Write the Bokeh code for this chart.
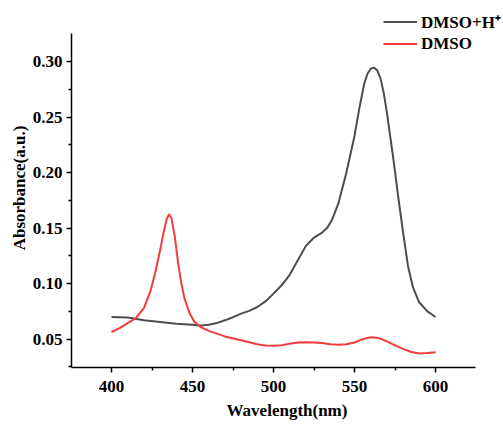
from bokeh.plotting import figure
from bokeh.models import Range1d, FixedTicker, Legend, LegendItem, NumeralTickFormatter
from bokeh.embed import file_html
from bokeh.resources import INLINE

# DMSO + H+ spectrum
wl_acid = [400, 410, 420, 430, 440, 450, 455, 460, 465, 470, 475, 480, 485, 490, 495,
           500, 505, 510, 515, 520, 525, 530, 533, 536, 540, 545, 550, 553, 556, 558,
           560, 562, 564, 566, 568, 570, 572, 574, 577, 580, 583, 586, 590, 595, 600]
abs_acid = [0.070, 0.0695, 0.067, 0.0655, 0.064, 0.063, 0.0623, 0.063, 0.0645, 0.067,
            0.0698, 0.073, 0.0755, 0.079, 0.084, 0.091, 0.0985, 0.108, 0.121, 0.134,
            0.1415, 0.146, 0.150, 0.157, 0.172, 0.200, 0.233, 0.258, 0.280, 0.289,
            0.2935, 0.2945, 0.292, 0.285, 0.272, 0.254, 0.233, 0.212, 0.178, 0.146,
            0.116, 0.097, 0.083, 0.075, 0.070]

# DMSO spectrum
wl_dmso = [400, 405, 410, 415, 420, 424, 427, 430, 432, 434, 435.5, 437, 439, 441, 443,
           445, 448, 451, 455, 460, 465, 470, 480, 490, 495, 500, 505, 510, 515, 520,
           525, 530, 535, 540, 545, 550, 555, 560, 565, 570, 575, 580, 585, 590, 595, 600]
abs_dmso = [0.0565, 0.060, 0.0645, 0.069, 0.078, 0.093, 0.110, 0.130, 0.145, 0.158,
            0.1625, 0.159, 0.143, 0.120, 0.101, 0.087, 0.074, 0.066, 0.061, 0.0575,
            0.055, 0.0525, 0.049, 0.0455, 0.0443, 0.044, 0.0445, 0.046, 0.047, 0.0473,
            0.047, 0.0465, 0.0455, 0.045, 0.0455, 0.047, 0.050, 0.0518, 0.051, 0.048,
            0.0445, 0.0413, 0.0385, 0.0372, 0.0375, 0.0383]

x_ticks = [400, 450, 500, 550, 600]
x_minor = [425, 475, 525, 575]
y_ticks = [0.05, 0.10, 0.15, 0.20, 0.25, 0.30]
y_minor = [0.025, 0.075, 0.125, 0.175, 0.225, 0.275]

labels = ["DMSO+H\u207a", "DMSO"]
colors = ["#4d4d4d", "#f23c3c"]

FONT = "Liberation Serif"

X_AXIS = (375.31, 624.69)
Y_AXIS = (0.02452, 0.3252)

p = figure(width=503, height=425, output_backend="svg", toolbar_location=None,
           x_range=Range1d(X_AXIS[0], 641.35), y_range=Range1d(Y_AXIS[0], 0.3477),
           min_border_left=71, min_border_right=1, min_border_top=8, min_border_bottom=58)
p.outline_line_color = None
p.grid.visible = False
p.background_fill_color = "white"

r1 = p.line(wl_acid, abs_acid, line_color=colors[0], line_width=2)
r2 = p.line(wl_dmso, abs_dmso, line_color=colors[1], line_width=2)

for ax in (p.xaxis[0], p.yaxis[0]):
    ax.axis_line_width = 1.5
    ax.major_tick_line_width = 1.5
    ax.minor_tick_line_width = 1.5
    ax.major_tick_in = 0
    ax.major_tick_out = 5
    ax.minor_tick_in = 0
    ax.minor_tick_out = 3
    ax.major_label_text_font = FONT
    ax.major_label_text_font_style = "bold"
    ax.major_label_text_font_size = "17px"
    ax.major_label_text_color = "black"
    ax.axis_label_text_font = FONT
    ax.axis_label_text_font_style = "bold"
    ax.axis_label_text_font_size = "17px"
    ax.axis_label_text_color = "black"

p.xaxis[0].bounds = X_AXIS
p.yaxis[0].bounds = Y_AXIS
p.xaxis[0].ticker = FixedTicker(ticks=x_ticks, minor_ticks=x_minor)
p.yaxis[0].ticker = FixedTicker(ticks=y_ticks, minor_ticks=y_minor)
p.yaxis[0].formatter = NumeralTickFormatter(format="0.00")
p.xaxis[0].axis_label = "Wavelength(nm)"
p.yaxis[0].axis_label = "Absorbance(a.u.)"
p.xaxis[0].major_label_standoff = 8
p.xaxis[0].axis_label_standoff = 6
p.yaxis[0].major_label_standoff = 4
p.yaxis[0].axis_label_standoff = 1

legend = Legend(items=[LegendItem(label=labels[0], renderers=[r1]),
                       LegendItem(label=labels[1], renderers=[r2])],
                location=(312, 313), padding=0, margin=0, spacing=0,
                glyph_width=34, glyph_height=21, label_height=21, label_standoff=4,
                label_text_font=FONT, label_text_font_style="bold",
                label_text_font_size="17px", label_text_color="black",
                background_fill_alpha=0, border_line_alpha=0)
p.add_layout(legend)

open("out.html", "w").write(file_html(p, INLINE))
